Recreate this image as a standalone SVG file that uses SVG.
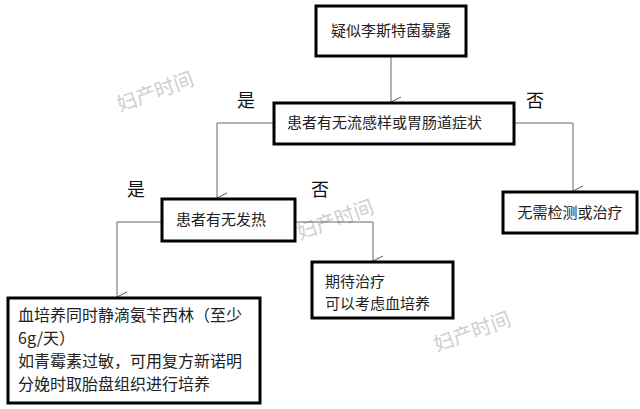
<svg xmlns="http://www.w3.org/2000/svg" width="640" height="409" viewBox="0 0 640 409">
<defs>
<marker id="arr" markerWidth="12" markerHeight="12" refX="6" refY="11" orient="auto-start-reverse" markerUnits="userSpaceOnUse" viewBox="0 0 12 12">
<path d="M1,1 L6,11 L11,1" fill="none" stroke="#555" stroke-width="1"/>
</marker>
<style>
.box{fill:#fff;stroke:#000;stroke-width:3}
.t{font-family:"Noto Sans CJK SC","Liberation Sans",sans-serif;font-size:15px;fill:#222}
.lbl{font-family:"Noto Sans CJK SC","Liberation Sans",sans-serif;font-size:18px;fill:#111}
.wm{font-family:"Noto Sans CJK SC","Liberation Sans",sans-serif;font-size:20px;fill:#cfcfcf}
.c{fill:none;stroke:#666;stroke-width:1}
</style>
</defs>
<rect width="640" height="409" fill="#fff"/>
<g id="watermarks">
<text class="wm" x="120" y="112" transform="rotate(-20 120 112)">妇产时间</text>
<text class="wm" x="300" y="240" transform="rotate(-20 300 240)">妇产时间</text>
<text class="wm" x="437" y="352" transform="rotate(-20 437 352)">妇产时间</text>
</g>
<g id="connectors">
<path class="c" d="M391,57 V102" marker-end="url(#arr)"/>
<path class="c" d="M273,123 H217 V198" marker-end="url(#arr)"/>
<path class="c" d="M514,123 H573 V191" marker-end="url(#arr)"/>
<path class="c" d="M162,222 H117 V297" marker-end="url(#arr)"/>
<path class="c" d="M295,222 H373 V261" marker-end="url(#arr)"/>
</g>
<g id="labels">
<text class="lbl" x="237" y="107">是</text>
<text class="lbl" x="526" y="107">否</text>
<text class="lbl" x="127" y="196">是</text>
<text class="lbl" x="311" y="196">否</text>
</g>
<g id="n1">
<rect class="box" x="316" y="6" width="150" height="50"/>
<text class="t" x="391" y="36" text-anchor="middle">疑似李斯特菌暴露</text>
</g>
<g id="n2">
<rect class="box" x="274" y="103" width="240" height="41"/>
<text class="t" x="287" y="128">患者有无流感样或胃肠道症状</text>
</g>
<g id="n3">
<rect class="box" x="162" y="199" width="133" height="42"/>
<text class="t" x="176" y="225">患者有无发热</text>
</g>
<g id="n4">
<rect class="box" x="503" y="192" width="134" height="41"/>
<text class="t" x="570" y="218" text-anchor="middle">无需检测或治疗</text>
</g>
<g id="n5">
<rect class="box" x="8" y="298" width="252" height="105"/>
<text class="t" x="18" y="321" style="font-size:16px">血培养同时静滴氨苄西林（至少</text>
<text class="t" x="18" y="344" style="font-size:16px">6g/天）</text>
<text class="t" x="18" y="367" style="font-size:16px">如青霉素过敏，可用复方新诺明</text>
<text class="t" x="18" y="390" style="font-size:16px">分娩时取胎盘组织进行培养</text>
</g>
<g id="n6">
<rect class="box" x="312" y="262" width="141" height="56"/>
<text class="t" x="325" y="287">期待治疗</text>
<text class="t" x="325" y="309">可以考虑血培养</text>
</g>
</svg>
